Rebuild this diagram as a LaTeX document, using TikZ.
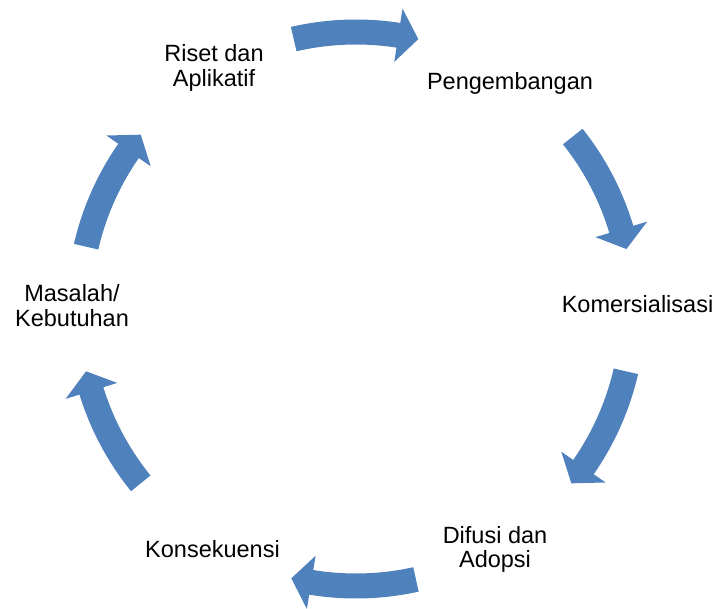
\documentclass[tikz,border=0pt]{standalone}
\usepackage{fontspec}
\setmainfont{Liberation Sans}
\definecolor{arrowblue}{HTML}{4F81BD}
\begin{document}
\begin{tikzpicture}[x=1pt,y=1pt,
  lbl/.style={anchor=base, inner sep=0pt, font=\fontsize{23.5}{24}\selectfont, text=black},
  cyc/.style={fill=arrowblue, draw=none}]
\useasboundingbox (0,0) rectangle (717,608);
\coordinate (C) at (356,299);
\foreach \a in {90,25.5,-26,-90.5,206,154}{
  \fill[cyc, shift={(C)}]
    ({\a+13}:289.5) arc[start angle={\a+13}, end angle={\a-8.8}, radius=289.5]
    -- ({\a-8.8}:304) -- ({\a-13}:277) -- ({\a-8.8}:250) -- ({\a-8.8}:264.5)
    arc[start angle={\a-8.8}, end angle={\a+13}, radius=264.5] -- cycle;
}
\node[lbl] (riset) at (214,546) {\begin{tabular}[t]{@{}c@{}}Riset dan\\Aplikatif\end{tabular}};
\node[lbl] (peng) at (510,518) {Pengembangan};
\node[lbl] (kom) at (637.5,295) {Komersialisasi};
\node[lbl] (dif) at (495,65) {\begin{tabular}[t]{@{}c@{}}Difusi dan\\Adopsi\end{tabular}};
\node[lbl] (kons) at (212.5,51) {Konsekuensi};
\node[lbl] (mas) at (72,306) {\begin{tabular}[t]{@{}c@{}}Masalah/\\Kebutuhan\end{tabular}};
\end{tikzpicture}
\end{document}
